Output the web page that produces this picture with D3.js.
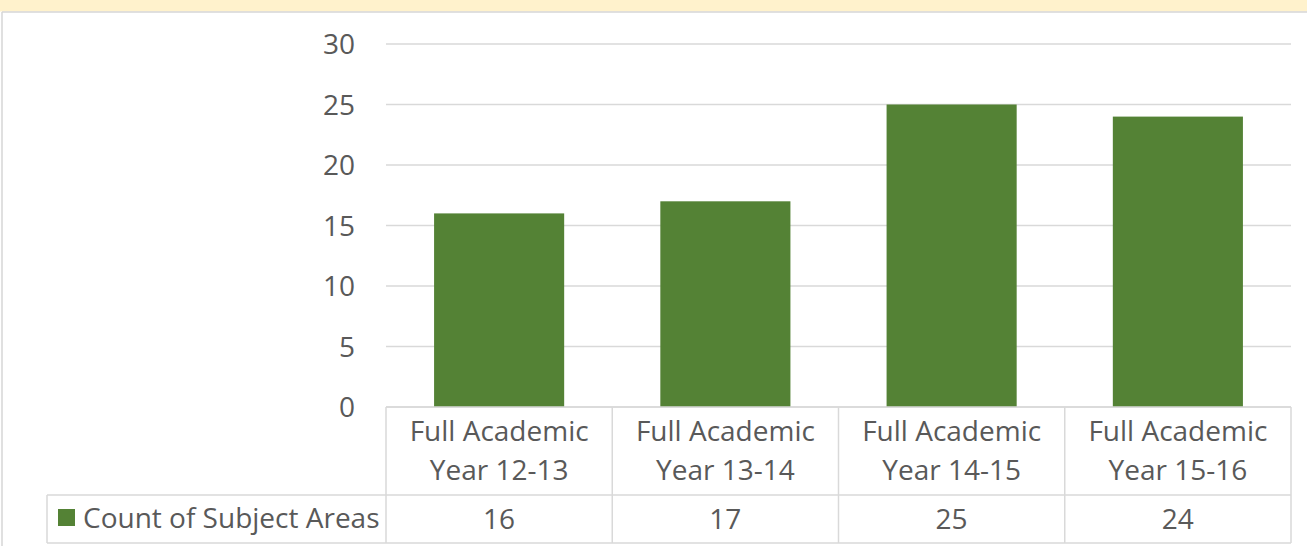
<!DOCTYPE html>
<html><head><meta charset="utf-8">
<script src="https://cdn.jsdelivr.net/npm/d3@7"></script>
<style>body{margin:0;background:#fff}svg{display:block}</style>
</head><body>
<script>
const categories = [["Full Academic","Year 12-13"],["Full Academic","Year 13-14"],["Full Academic","Year 14-15"],["Full Academic","Year 15-16"]];
const seriesName = "Count of Subject Areas";
const values = [16, 17, 25, 24];
const yTicks = [0, 5, 10, 15, 20, 25, 30];

const W = 1307, H = 546;
const svg = d3.select("body").append("svg").attr("width", W).attr("height", H);
const font = "'Open Sans', sans-serif";
const fs = "28px";
const textColor = "#595959", lineColor = "#d9d9d9";

// top band
svg.append("rect").attr("x",0).attr("y",0).attr("width",W).attr("height",11.5).attr("fill","#fff2cc");
svg.append("line").attr("x1",2).attr("x2",W).attr("y1",12).attr("y2",12).attr("stroke","#d6d6d6").attr("stroke-width",1.5);
svg.append("line").attr("x1",2).attr("x2",2).attr("y1",12).attr("y2",H).attr("stroke","#d6d6d6").attr("stroke-width",1.5);

const x0 = 386, x1 = 1291;
const y = d3.scaleLinear().domain([0,30]).range([407,44]);
const x = d3.scaleBand().domain(d3.range(categories.length)).range([x0,x1]).paddingInner(0).paddingOuter(0);
const barW = x.bandwidth()*0.575;

// gridlines
svg.append("g").selectAll("line").data(yTicks).join("line")
  .attr("x1",x0).attr("x2",x1).attr("y1",d=>y(d)).attr("y2",d=>y(d))
  .attr("stroke",lineColor).attr("stroke-width",1.5);

// y axis labels
const yAxis = d3.axisLeft(y).tickValues(yTicks).tickSize(0).tickPadding(0);
const gy = svg.append("g").attr("transform","translate(355,0)").call(yAxis);
gy.select(".domain").remove();
gy.selectAll("text").attr("font-family",font).attr("font-size",fs).attr("fill",textColor).attr("dy","0.35em");

// bars
svg.append("g").selectAll("rect").data(values).join("rect")
  .attr("x",(d,i)=>x(i)+(x.bandwidth()-barW)/2).attr("width",barW)
  .attr("y",d=>y(d)).attr("height",d=>y(0)-y(d)).attr("fill","#548235");

// table
const tTop = 407, tMid = 495, tBot = 543, legLeft = 47;
const tg = svg.append("g").attr("stroke",lineColor).attr("stroke-width",1.5);
tg.append("line").attr("x1",x0).attr("x2",x1).attr("y1",tTop).attr("y2",tTop);
tg.append("line").attr("x1",legLeft).attr("x2",x1).attr("y1",tMid).attr("y2",tMid);
tg.append("line").attr("x1",legLeft).attr("x2",x1).attr("y1",tBot).attr("y2",tBot);
tg.append("line").attr("x1",legLeft).attr("x2",legLeft).attr("y1",tMid).attr("y2",tBot);
tg.selectAll("line.v").data(d3.range(categories.length+1)).join("line").attr("class","v")
  .attr("x1",i=>x0+i*x.bandwidth()).attr("x2",i=>x0+i*x.bandwidth()).attr("y1",tTop).attr("y2",tBot);

// category labels
const cl = svg.append("g").selectAll("text").data(categories).join("text")
  .attr("text-anchor","middle").attr("font-family",font).attr("font-size",fs).attr("fill",textColor);
cl.each(function(d,i){
  const t = d3.select(this);
  d.forEach((line,j)=>t.append("tspan").attr("x",x(i)+x.bandwidth()/2).attr("y",441+j*39).text(line));
});

// values row
svg.append("g").selectAll("text").data(values).join("text")
  .attr("x",(d,i)=>x(i)+x.bandwidth()/2).attr("y",529).attr("text-anchor","middle")
  .attr("font-family",font).attr("font-size",fs).attr("fill",textColor).text(d=>d);

// legend key
svg.append("rect").attr("x",58).attr("y",509).attr("width",17).attr("height",17).attr("fill","#548235");
svg.append("text").attr("x",83).attr("y",528).attr("font-family",font).attr("font-size",fs).attr("fill",textColor).text(seriesName);
</script>
</body></html>
